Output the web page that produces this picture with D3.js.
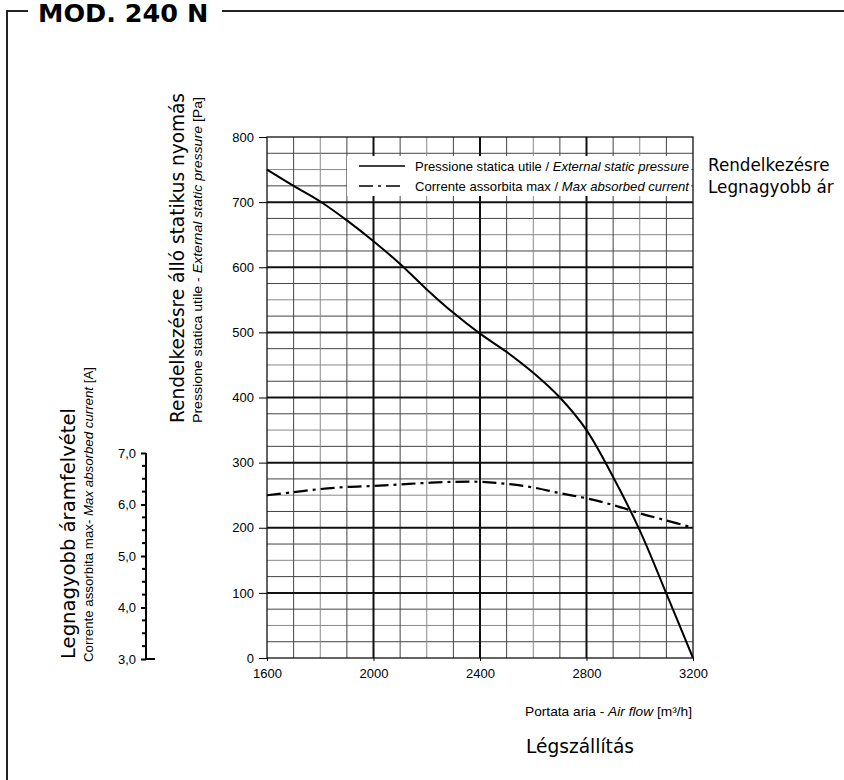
<!DOCTYPE html>
<html><head><meta charset="utf-8">
<script src="https://cdn.jsdelivr.net/npm/d3@7"></script>
<style>body{margin:0;background:#fff}svg{display:block}</style>
</head><body><svg id="c" width="844" height="780"></svg>
<script>
// ---- data ----
const title = "MOD. 240 N";
const airflow = [1600,1700,1800,1900,2000,2100,2200,2300,2400,2500,2600,2700,2800,2900,3000,3100,3200];
const pressure = [750,725,701,672,640,605,566,530,498,470,438,400,350,278,196,99,0];
const current = [6.18,6.24,6.30,6.34,6.36,6.39,6.42,6.44,6.44,6.40,6.33,6.22,6.12,5.99,5.83,5.69,5.55];
const xTicks = [1600,2000,2400,2800,3200];
const yTicks = [0,100,200,300,400,500,600,700,800];
const curTicks = [3,4,5,6,7];
const legendLabels = [
  ["Pressione statica utile / ","External static pressure"],
  ["Corrente assorbita max / ","Max absorbed current"]
];

const svg = d3.select("#c");
const x = d3.scaleLinear().domain([1600,3200]).range([267,693]);
const y = d3.scaleLinear().domain([0,800]).range([658,137]);
const yCur = d3.scaleLinear().domain([3,7]).range([659,453]);

const SANS = "'Liberation Sans', Arial, sans-serif";
const HU = "'DejaVu Sans', Verdana, sans-serif";

// ---- frame & title ----
const frame = svg.append("g").attr("stroke","#222").attr("stroke-width",2).attr("fill","none");
frame.append("path").attr("d","M7,780 V11 H28");
frame.append("path").attr("d","M222,11 H844");
svg.append("text").attr("x",38).attr("y",22).attr("font-family",HU).attr("font-weight","bold")
  .attr("font-size",25.5).attr("fill","#000").text(title);

// ---- grid ----
const grid = svg.append("g");
const minorY = d3.range(25,800,25).filter(v=>v%100!==0);
grid.selectAll("line.hy").data(minorY).join("line")
  .attr("x1",x(1600)).attr("x2",x(3200)).attr("y1",d=>y(d)).attr("y2",d=>y(d))
  .attr("stroke",d=>d%50===0?"#888":"#444").attr("stroke-width",1);
const minorX = d3.range(1700,3200,100).filter(v=>v%400!==0);
grid.selectAll("line.vx").data(minorX).join("line")
  .attr("y1",y(0)).attr("y2",y(800)).attr("x1",d=>x(d)).attr("x2",d=>x(d))
  .attr("stroke",d=>d%200===0?"#888":"#444").attr("stroke-width",1);
grid.selectAll("line.hY").data(d3.range(100,800,100)).join("line")
  .attr("x1",x(1600)).attr("x2",x(3200)).attr("y1",d=>y(d)).attr("y2",d=>y(d))
  .attr("stroke","#111").attr("stroke-width",2);
grid.selectAll("line.vX").data([2000,2400,2800]).join("line")
  .attr("y1",y(0)).attr("y2",y(800)).attr("x1",d=>x(d)).attr("x2",d=>x(d))
  .attr("stroke","#111").attr("stroke-width",2);
grid.append("rect").attr("x",x(1600)).attr("y",y(800)).attr("width",x(3200)-x(1600))
  .attr("height",y(0)-y(800)).attr("fill","none").attr("stroke","#111").attr("stroke-width",1.3);

// ---- legend ----
const lg = svg.append("g");
lg.append("rect").attr("x",347).attr("y",156).attr("width",344).attr("height",40).attr("fill","#fff");
lg.append("line").attr("x1",359).attr("x2",405).attr("y1",166).attr("y2",166).attr("stroke","#000").attr("stroke-width",1.6);
lg.append("line").attr("x1",359).attr("x2",405).attr("y1",186).attr("y2",186).attr("stroke","#000").attr("stroke-width",1.6)
  .attr("stroke-dasharray","14,5,3,5");
legendLabels.forEach((l,i)=>{
  const t = lg.append("text").attr("x",415).attr("y",171+i*20).attr("font-family",SANS).attr("font-size",13.5)
    .attr("textLength",274).attr("lengthAdjust","spacingAndGlyphs");
  t.append("tspan").text(l[0]);
  t.append("tspan").attr("font-style","italic").text(l[1]);
});

// ---- curves ----
const lineP = d3.line().x((d,i)=>x(airflow[i])).y(d=>y(d)).curve(d3.curveCatmullRom);
svg.append("path").datum(pressure).attr("d",lineP).attr("fill","none").attr("stroke","#000").attr("stroke-width",2);
const lineC = d3.line().x((d,i)=>x(airflow[i])).y(d=>yCur(d)).curve(d3.curveCatmullRom);
svg.append("path").datum(current).attr("d",lineC).attr("fill","none").attr("stroke","#000").attr("stroke-width",2.2)
  .attr("stroke-dasharray","14,5,3,5");

// ---- axes ----
const ay = svg.append("g").attr("transform",`translate(${x(1600)},0)`)
  .call(d3.axisLeft(y).tickValues(yTicks).tickSize(8).tickPadding(5).tickFormat(d3.format("d")));
ay.select(".domain").remove();
ay.selectAll("text").attr("font-family",SANS).attr("font-size",13).attr("fill","#000");
ay.selectAll("line").attr("stroke","#000");

const ax = svg.append("g").attr("transform",`translate(0,${y(0)})`)
  .call(d3.axisBottom(x).tickValues(xTicks).tickSize(3).tickPadding(8).tickFormat(d3.format("d")));
ax.select(".domain").remove();
ax.selectAll("text").attr("font-family",SANS).attr("font-size",13).attr("fill","#000");
ax.selectAll("line").attr("stroke","#000");

const ac = svg.append("g").attr("transform","translate(146,0)")
  .call(d3.axisLeft(yCur).tickValues(curTicks).tickSize(5).tickPadding(5).tickFormat(d=>d3.format(".1f")(d).replace(".",",")));
ac.select(".domain").attr("d",`M0,${yCur(7)}V${yCur(3)}`).attr("stroke","#000").attr("stroke-width",2);
ac.selectAll("text").attr("font-family",SANS).attr("font-size",13).attr("fill","#000");
ac.selectAll("line").attr("stroke","#000").attr("stroke-width",2);
const minorC = d3.range(3.25,7,0.25).filter(v=>v%1!==0);
ac.selectAll("line.mn").data(minorC).join("line").attr("x1",-4).attr("x2",0)
  .attr("y1",d=>yCur(d)).attr("y2",d=>yCur(d)).attr("stroke","#000").attr("stroke-width",2);
ac.append("line").attr("x1",0).attr("x2",9).attr("y1",yCur(3)).attr("y2",yCur(3)).attr("stroke","#000").attr("stroke-width",2);

// ---- axis titles ----
function vtext(xp, yp, size, family, len, parts){
  const t = svg.append("text").attr("transform",`translate(${xp},${yp}) rotate(-90)`)
    .attr("font-family",family).attr("font-size",size).attr("fill","#000")
    .attr("textLength",len).attr("lengthAdjust","spacingAndGlyphs");
  parts.forEach(p=>t.append("tspan").attr("font-style",p[1]?"italic":null).text(p[0]));
}
vtext(184, 423, 19.5, HU, 330, [["Rendelkezésre álló statikus nyomás",false]]);
vtext(202, 423, 13.5, SANS, 326, [["Pressione statica utile - ",false],["External static pressure",true],[" [Pa]",false]]);
vtext(75, 659, 19.5, HU, 251, [["Legnagyobb áramfelvétel",false]]);
vtext(93, 662, 13.5, SANS, 295, [["Corrente assorbita max- ",false],["Max absorbed current",true],[" [A]",false]]);

const xt = svg.append("text").attr("x",525).attr("y",716).attr("font-family",SANS).attr("font-size",13.5)
  .attr("textLength",167).attr("lengthAdjust","spacingAndGlyphs");
xt.append("tspan").text("Portata aria - ");
xt.append("tspan").attr("font-style","italic").text("Air flow");
xt.append("tspan").text(" [m³/h]");
svg.append("text").attr("x",526).attr("y",753).attr("font-family",HU).attr("font-size",19.5)
  .attr("textLength",108).attr("lengthAdjust","spacingAndGlyphs").text("Légszállítás");

svg.append("text").attr("x",708).attr("y",171).attr("font-family",HU).attr("font-size",16.8).text("Rendelkezésre");
svg.append("text").attr("x",708).attr("y",193).attr("font-family",HU).attr("font-size",16.8).text("Legnagyobb ár");
</script></body></html>
